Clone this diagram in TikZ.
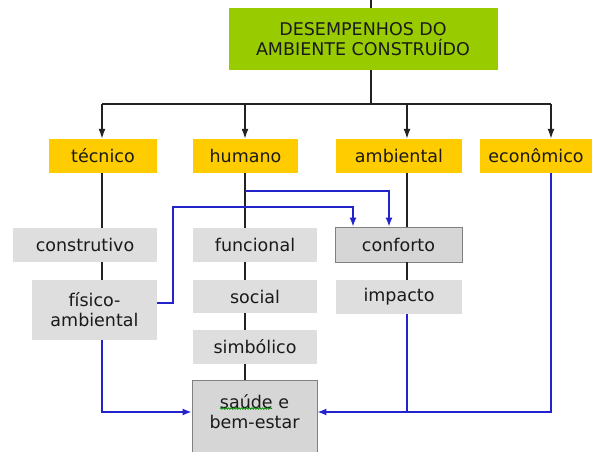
\documentclass[tikz,border=0pt]{standalone}
\usepackage{fontspec}
\setmainfont{DejaVu Sans}
\usetikzlibrary{arrows.meta,decorations.pathmorphing}
\definecolor{topgreen}{HTML}{99CC00}
\definecolor{yel}{HTML}{FFCC00}
\definecolor{lgray}{HTML}{DEDEDE}
\definecolor{mgray}{HTML}{D6D6D6}
\definecolor{bord}{HTML}{808080}
\definecolor{blu}{RGB}{35,35,205}
\definecolor{ink}{HTML}{1A1A1A}
\definecolor{lin}{HTML}{222222}
\begin{document}
\begin{tikzpicture}[x=1pt,y=-1pt,
  every node/.style={font=\fontsize{17.5}{20}\selectfont, text=ink, inner sep=0pt, align=center},
  topbox/.style={fill=topgreen, minimum width=269pt, minimum height=62pt},
  ybox/.style={fill=yel, minimum height=34pt},
  gbox/.style={fill=lgray, minimum height=34pt},
  bbox/.style={fill=mgray, draw=bord, line width=0.9pt, minimum height=34pt},
  blk/.style={draw=lin, line width=1.5pt},
  thin/.style={draw=lin, line width=1.3pt},
  bluline/.style={draw=blu, line width=1.4pt},
  barr/.style={-{Latex[length=10pt,width=7pt]}},
  carr/.style={-{Latex[length=9pt,width=7pt]}}
]
\useasboundingbox (0,0) rectangle (594,452);

% nodes
\node[topbox] (top) at (363,39) {DESEMPENHOS DO\\AMBIENTE CONSTRUÍDO};
\node[ybox, minimum width=108pt] (tec) at (103,156) {técnico};
\node[ybox, minimum width=105pt] (hum) at (245.5,156) {humano};
\node[ybox, minimum width=126pt] (amb) at (399,156) {ambiental};
\node[ybox, minimum width=112pt] (eco) at (536,156) {econômico};

\node[gbox, minimum width=144pt] (cons) at (85,245) {construtivo};
\node[gbox, minimum width=125pt, minimum height=60pt] (fis) at (94.5,310) {físico-\\ambiental};

\node[gbox, minimum width=124pt] (fun) at (255,245) {funcional};
\node[gbox, minimum width=124pt, minimum height=33pt] (soc) at (255,296.5) {social};
\node[gbox, minimum width=124pt] (sim) at (255,347) {simbólico};
\node[bbox, minimum width=125pt, minimum height=80pt] (sau) at (254.5,420) {};
\node (sautxt) at (254.5,412) {saúde e\\bem-estar};

\node[bbox, minimum width=127pt, minimum height=35pt] (conf) at (398.5,244.5) {conforto};
\node[gbox, minimum width=126pt] (imp) at (399,297) {impacto};

% spell-check squiggle
\draw[green!55!black, line width=0.7pt, decorate, decoration={snake, amplitude=0.8pt, segment length=2.6pt}] (220,408.5) -- (272,408.5);

% coordinates
\coordinate (stub) at (371,0);
\coordinate (bus) at (371,104);
\coordinate (b1) at (102,104);
\coordinate (b2) at (245,104);
\coordinate (b3) at (407,104);
\coordinate (b4) at (551,104);
\coordinate (h1) at (245,191);
\coordinate (f1) at (173,303);
\coordinate (f2) at (173,207);
\coordinate (low) at (0,412);

% top tree
\draw[blk] (stub) -- (top.north -| stub);
\draw[blk] (top.south -| bus) -- (bus);
\draw[blk] (b1) -- (b4);
\draw[blk, barr] (b1) -- (b1 |- tec.north);
\draw[blk, barr] (b2) -- (b2 |- hum.north);
\draw[blk, barr] (b3) -- (b3 |- amb.north);
\draw[blk, barr] (b4) -- (b4 |- eco.north);

% column connectors
\draw[thin] (tec.south -| b1) -- (cons.north -| b1);
\draw[thin] (cons.south -| b1) -- (fis.north -| b1);
\draw[thin] (hum.south -| b2) -- (fun.north -| b2);
\draw[thin] (fun.south -| b2) -- (soc.north -| b2);
\draw[thin] (soc.south -| b2) -- (sim.north -| b2);
\draw[thin] (sim.south -| b2) -- (sau.north -| b2);
\draw[thin] (amb.south -| b3) -- (conf.north -| b3);
\draw[thin] (conf.south -| b3) -- (imp.north -| b3);

% blue connectors
\draw[bluline, carr] (h1) -| ([xshift=-9.5pt]conf.north);
\draw[bluline, carr] (fis.east |- f1) -- (f1) -- (f2) -| ([xshift=-45.5pt]conf.north);
\draw[bluline, carr] (fis.south -| b1) -- (b1 |- low) -- (sau.west |- low);
\draw[bluline, carr] (eco.south -| b4) -- (b4 |- low) -- (sau.east |- low);
\draw[bluline] (imp.south -| b3) -- (b3 |- low);
\end{tikzpicture}
\end{document}
